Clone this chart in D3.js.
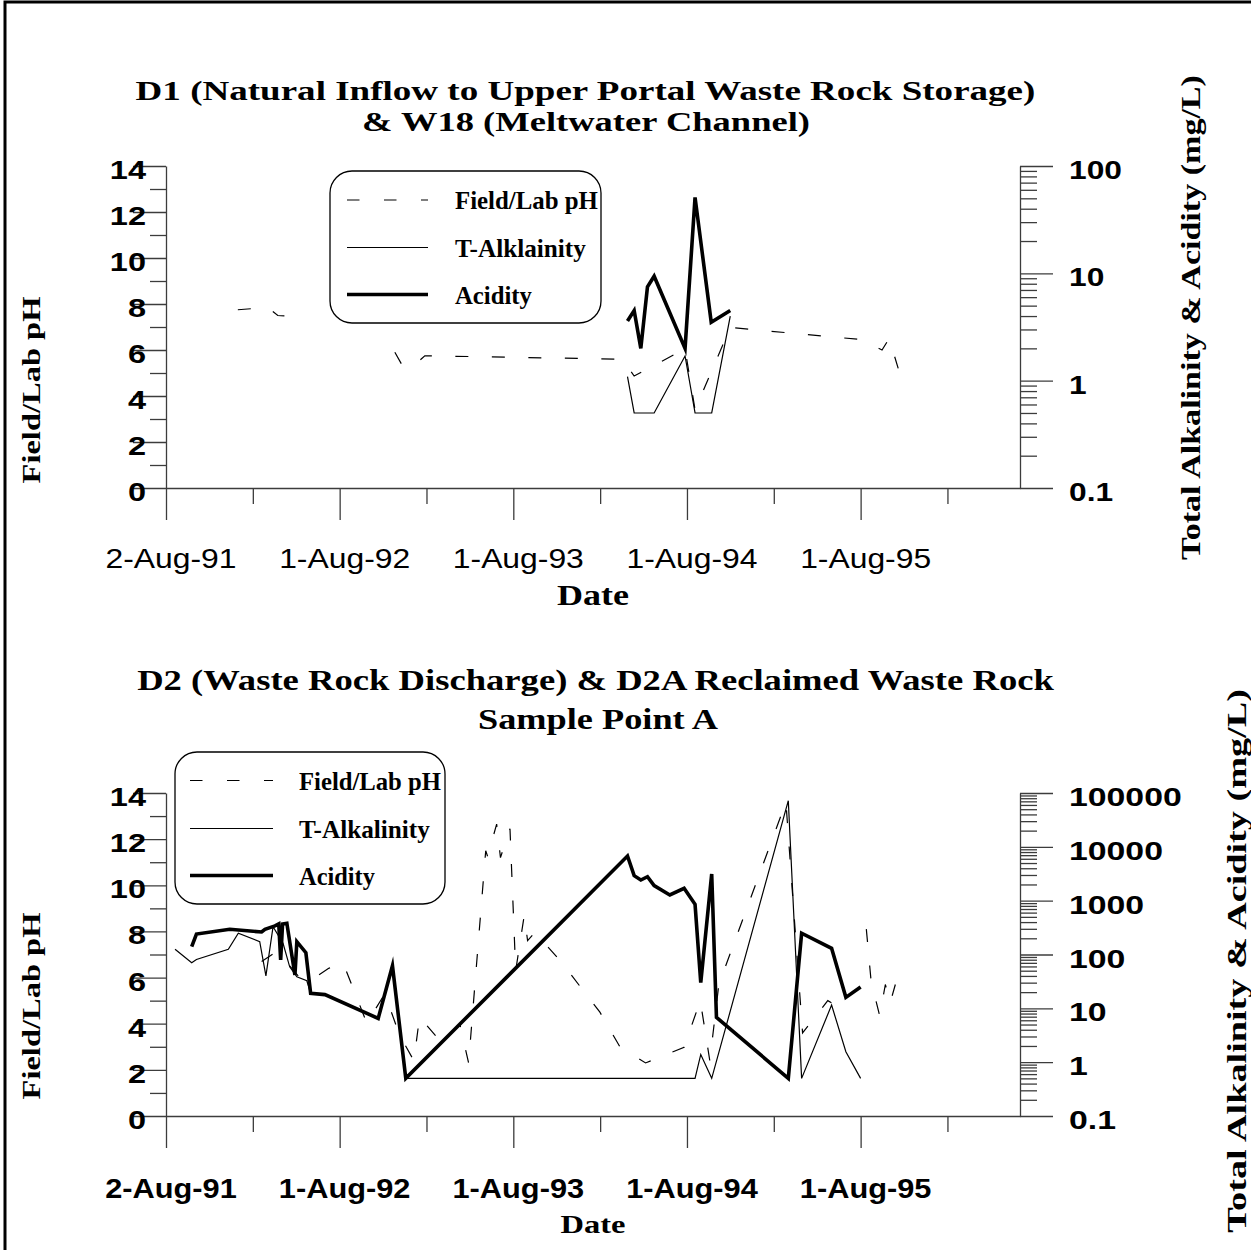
<!DOCTYPE html>
<html><head><meta charset="utf-8">
<script src="https://cdn.jsdelivr.net/npm/d3@7"></script>
<style>body{margin:0;background:#fff}</style>
</head><body>
<script>
// ---------------- DATA ----------------
const xDomain = ["1991-08-02", "1996-07-01"];
const xTickDates = ["1991-08-02", "1992-08-01", "1993-08-01", "1994-08-01", "1995-08-01"];
const xTickLabels = ["2-Aug-91", "1-Aug-92", "1-Aug-93", "1-Aug-94", "1-Aug-95"];
const pHTicks = [0, 2, 4, 6, 8, 10, 12, 14];
const pHMinor = [1, 3, 5, 7, 9, 11, 13];
const d1LogTicks = [0.1, 1, 10, 100];
const d1LogLabels = ["0.1", "1", "10", "100"];
const d2LogTicks = [0.1, 1, 10, 100, 1000, 10000, 100000];
const d2LogLabels = ["0.1", "1", "10", "100", "1000", "10000", "100000"];

const d1Title = ["D1 (Natural Inflow to Upper Portal Waste Rock Storage)", "& W18 (Meltwater Channel)"];
const d2Title = ["D2 (Waste Rock Discharge) & D2A Reclaimed Waste Rock", "Sample Point A"];
const d1Legend = ["Field/Lab pH", "T-Alklainity", "Acidity"];
const d2Legend = ["Field/Lab pH", "T-Alkalinity", "Acidity"];

// D1 / W18 series  [date, value]
const d1PH = [["1991-12-31",7.75],["1992-03-03",7.85],["1992-03-24",7.5],["1992-05-05",7.45],[null,null],
  ["1992-11-25",5.9],["1992-12-12",5.28],["1993-01-02",5.28],["1993-01-27",5.75],
  ["1994-03-18",5.6],["1994-04-12",4.87],["1994-07-28",6.05],["1994-08-18",3.4],["1994-10-31",6.98],
  ["1995-08-04",6.45],["1995-09-15",6.0],["1995-09-30",6.5],["1995-10-19",5.2]];
const d1Alk = [["1994-03-29",1.09],["1994-04-12",0.5],["1994-05-24",0.5],["1994-07-28",1.7],
  ["1994-08-18",0.5],["1994-09-22",0.5],["1994-10-31",4.0]];
const d1Acid = [["1994-03-29",3.6],["1994-04-12",4.5],["1994-04-26",2.0],["1994-05-10",7.5],["1994-05-24",9.4],
  ["1994-07-28",2.0],["1994-08-18",51],["1994-09-21",3.5],["1994-10-31",4.5]];

// D2 / D2A series
const d2PH = [["1992-02-19",6.7],["1992-03-20",7.1],["1992-04-14",6.6],["1992-05-09",6.0],["1992-06-03",5.9],
  ["1992-07-09",6.4],["1992-08-08",6.65],["1992-09-27",4.03],["1992-11-04",5.3],["1992-12-05",3.5],
  ["1993-01-04",2.4],["1993-01-16",4.3],["1993-03-02",3.2],["1993-04-11",3.95],["1993-04-29",2.3],
  ["1993-06-04",11.5],["1993-06-08",11.25],["1993-06-27",12.65],["1993-07-05",11.2],["1993-07-25",12.45],
  ["1993-08-06",6.3],["1993-08-24",8.7],["1993-08-31",7.6],["1993-09-15",7.95],["1993-11-07",6.75],
  ["1994-01-30",4.5],["1994-03-13",3.0],["1994-05-06",2.3],["1994-07-26",2.98],["1994-08-29",5.0],
  ["1994-09-18",2.4],["1994-10-07",5.7],["1995-02-25",13.6],["1995-04-01",3.6],["1995-05-24",5.0],
  ["1995-07-01",4.55],[null,null],["1995-08-13",8.1],["1995-08-23",5.85],["1995-09-10",4.35],
  ["1995-09-22",5.7],["1995-10-02",4.9],["1995-10-13",5.7]];
const d2Alk = [["1991-08-21",125],["1991-09-25",70],["1991-10-05",81],["1991-12-11",125],["1992-01-01",248],
  ["1992-02-15",173],["1992-02-28",40],["1992-03-14",329],["1992-04-04",162],["1992-04-18",59],
  ["1992-05-03",38.7],["1992-05-24",32.6],["1992-06-01",19],[null,null],["1992-12-18",0.5],
  ["1994-08-18",0.5],["1994-08-30",1.39],["1994-09-22",0.5],["1995-03-02",72000],["1995-03-30",0.5],
  ["1995-06-01",11.5],["1995-07-01",1.56],["1995-08-01",0.5]];
const d2Acid = [["1991-09-25",140],["1991-10-05",240],["1991-12-14",294],["1992-02-19",262],["1992-02-26",294],
  ["1992-03-18",339],["1992-03-26",369],["1992-03-30",79],["1992-04-03",369],["1992-04-12",380],
  ["1992-04-29",41.6],["1992-05-03",173],["1992-05-22",108],["1992-06-01",19],["1992-07-01",18],
  ["1992-10-21",6.5],["1992-11-20",62],["1992-12-18",0.5],["1994-03-29",6760],["1994-04-12",2910],
  ["1994-04-26",2420],["1994-05-10",2790],["1994-05-24",1900],["1994-06-26",1275],["1994-07-26",1700],
  ["1994-08-18",857],["1994-08-30",30],["1994-09-22",3130],["1994-10-02",6.8],["1995-03-02",0.5],
  ["1995-03-30",248],["1995-06-01",130],["1995-07-01",16],["1995-08-01",25]];

// ---------------- RENDER ----------------
const parse = d3.utcParse("%Y-%m-%d");
const SERIF = "'Liberation Serif','Times New Roman',serif";
const SANS = "'Liberation Sans',Arial,sans-serif";
const svg = d3.select("body").append("svg").attr("width", 1251).attr("height", 1250);
svg.append("rect").attr("width", 1251).attr("height", 1250).attr("fill", "#fff");
svg.append("rect").attr("x", 5).attr("y", 2).attr("width", 1320).attr("height", 1320)
  .attr("fill", "none").attr("stroke", "#000").attr("stroke-width", 3);

function label(parent, str, x, y, o) {
  const g = parent.append("g").attr("transform", `translate(${x},${y}) rotate(${o.rotate || 0})`);
  const t = g.append("text").text(str)
    .attr("text-anchor", o.anchor || "middle")
    .style("font-family", o.family || SERIF)
    .style("font-size", o.size + "px")
    .style("font-weight", o.weight || "bold")
    .attr("fill", "#000");
  let sx = o.sx || 1;
  if (o.width) { const w = t.node().getComputedTextLength(); if (w > 0) sx = o.width / w; }
  t.attr("transform", `scale(${sx},1)`);
  return t;
}

const DAY = 864e5;
function drawChart(cfg) {
  const x = d3.scaleUtc().domain(xDomain.map(parse)).range([166, 1020]);
  const yL = d3.scaleLinear().domain([0, 14]).range([cfg.bottom, cfg.top]);
  const yR = d3.scaleLog().domain([cfg.logTicks[0], cfg.logTicks[cfg.logTicks.length - 1]]).range([cfg.bottom, cfg.top]);
  const g = svg.append("g");
  const axisStyle = sel => { sel.attr("color", "#3c3c3c"); sel.selectAll("line,path").attr("stroke-width", 1.3); };

  // left pH axis
  g.append("g").attr("transform", "translate(166,0)")
    .call(d3.axisLeft(yL).tickValues(pHTicks).tickSize(33).tickSizeOuter(0).tickFormat(""))
    .call(axisStyle);
  g.append("g").attr("transform", "translate(166,0)")
    .call(d3.axisLeft(yL).tickValues(pHMinor).tickSize(16).tickSizeOuter(0).tickFormat(""))
    .call(axisStyle).select(".domain").remove();
  // right log axis
  const minors = [];
  cfg.logTicks.slice(0, -1).forEach(d => { for (let k = 2; k <= 9; k++) minors.push(d * k); });
  g.append("g").attr("transform", "translate(1020,0)")
    .call(d3.axisRight(yR).tickValues(cfg.logTicks).tickSize(33).tickSizeOuter(0).tickFormat(""))
    .call(axisStyle);
  g.append("g").attr("transform", "translate(1020,0)")
    .call(d3.axisRight(yR).tickValues(minors).tickSize(17).tickSizeOuter(0).tickFormat(""))
    .call(axisStyle).select(".domain").remove();
  // x axis
  const majors = xTickDates.map(parse);
  const xMinor = majors.map(d => new Date(d.getTime() + 182.5 * DAY));
  g.append("g").attr("transform", `translate(0,${cfg.bottom})`)
    .call(d3.axisBottom(x).tickValues(majors).tickSize(32).tickSizeOuter(0).tickFormat(""))
    .call(axisStyle);
  g.append("g").attr("transform", `translate(0,${cfg.bottom})`)
    .call(d3.axisBottom(x).tickValues(xMinor).tickSize(16).tickSizeOuter(0).tickFormat(""))
    .call(axisStyle).select(".domain").remove();

  // tick labels
  pHTicks.forEach(v => label(g, String(v), 146, yL(v) + 13, {family: SANS, size: 26, anchor: "end", sx: 1.25}));
  cfg.logTicks.forEach((v, i) => label(g, cfg.logLabels[i], 1069, yR(v) + 13, {family: SANS, size: 26, anchor: "start", sx: cfg.logSx}));
  majors.forEach((d, i) => label(g, xTickLabels[i], x(d) + 5, cfg.xLabelY,
    {family: SANS, size: 27, weight: cfg.xLabelWeight, sx: cfg.xLabelSx}));

  // titles
  cfg.title.forEach((t, i) => label(g, t, cfg.titleX[i], cfg.titleY[i], {size: cfg.titleSize, width: cfg.titleW[i]}));
  label(g, "Date", 593, cfg.dateY, {size: cfg.dateSize, width: cfg.dateW});
  label(g, "Field/Lab pH", 40, cfg.leftTitleY, {size: 26, width: 187, rotate: -90});
  label(g, "Total Alkalinity & Acidity (mg/L)", cfg.rightTitleX, cfg.rightTitleY,
    {size: cfg.rightTitleSize, width: cfg.rightTitleW, rotate: -90});

  // series
  const def = d => d[0] !== null && d[1] !== null;
  const linePH = d3.line().defined(def).x(d => x(parse(d[0]))).y(d => yL(d[1]));
  const lineR = d3.line().defined(def).x(d => x(parse(d[0]))).y(d => yR(d[1]));
  g.append("path").datum(cfg.ph).attr("d", linePH).attr("fill", "none").attr("stroke", "#000")
    .attr("stroke-width", 1.2).attr("stroke-dasharray", "13,23.5");
  g.append("path").datum(cfg.alk).attr("d", lineR).attr("fill", "none").attr("stroke", "#000")
    .attr("stroke-width", 1.2);
  g.append("path").datum(cfg.acid).attr("d", lineR).attr("fill", "none").attr("stroke", "#000")
    .attr("stroke-width", 3.6).attr("stroke-linejoin", "miter").attr("stroke-miterlimit", 6);

  // legend
  const L = cfg.legend;
  g.append("rect").attr("x", L.x0).attr("y", L.y0).attr("width", L.x1 - L.x0).attr("height", L.y1 - L.y0)
    .attr("rx", 22).attr("ry", 22).attr("fill", "#fff").attr("stroke", "#000").attr("stroke-width", 1.3);
  const styles = [{w: 1.2, dash: "12.5,24.5"}, {w: 1.2, dash: null}, {w: 3.6, dash: null}];
  cfg.legendLabels.forEach((t, i) => {
    const ly = L.rows[i];
    g.append("line").attr("x1", L.lx0).attr("x2", L.lx1).attr("y1", ly).attr("y2", ly)
      .attr("stroke", "#000").attr("stroke-width", styles[i].w).attr("stroke-dasharray", styles[i].dash);
    label(g, t, L.tx, ly + 9, {size: 25, anchor: "start", width: L.tw[i]});
  });
}

drawChart({
  top: 166, bottom: 488, logTicks: d1LogTicks, logLabels: d1LogLabels, logSx: 1.22,
  xLabelY: 568, xLabelWeight: "normal", xLabelSx: 1.18,
  title: d1Title, titleX: [585.5, 586], titleY: [100, 131], titleW: [900, 448], titleSize: 27,
  dateY: 605, dateSize: 30, dateW: 72,
  leftTitleY: 390, rightTitleX: 1200, rightTitleY: 317.5, rightTitleSize: 27, rightTitleW: 485,
  ph: d1PH, alk: d1Alk, acid: d1Acid,
  legendLabels: d1Legend,
  legend: {x0: 330, x1: 601, y0: 171, y1: 323, rows: [200, 247.5, 294.5], lx0: 347, lx1: 428, tx: 455, tw: [143, 131, 77]}
});
drawChart({
  top: 793, bottom: 1116, logTicks: d2LogTicks, logLabels: d2LogLabels, logSx: 1.3,
  xLabelY: 1198, xLabelWeight: "bold", xLabelSx: 1.14,
  title: d2Title, titleX: [595.5, 598], titleY: [690, 729], titleW: [917, 240], titleSize: 30,
  dateY: 1233, dateSize: 26, dateW: 65,
  leftTitleY: 1006, rightTitleX: 1246, rightTitleY: 961, rightTitleSize: 28, rightTitleW: 544,
  ph: d2PH, alk: d2Alk, acid: d2Acid,
  legendLabels: d2Legend,
  legend: {x0: 175, x1: 445, y0: 752, y1: 904, rows: [780.5, 828.5, 875.5], lx0: 190, lx1: 273, tx: 299, tw: [142, 131, 76]}
});
</script>
</body></html>
